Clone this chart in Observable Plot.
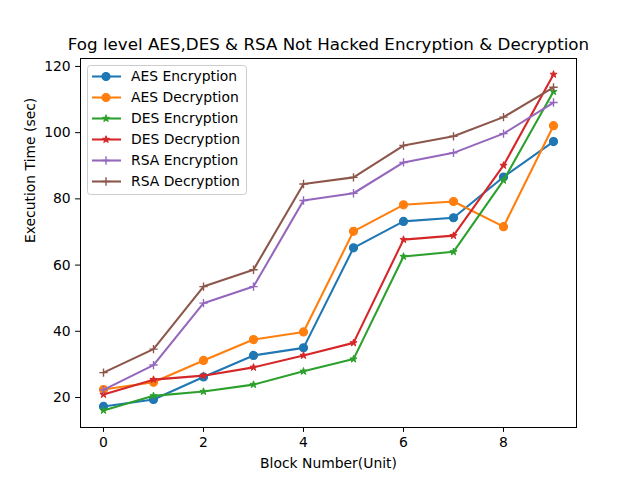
<!DOCTYPE html>
<html><head><meta charset="utf-8">
<script src="https://cdn.jsdelivr.net/npm/d3@7"></script>
<script src="https://cdn.jsdelivr.net/npm/@observablehq/plot@0.6"></script>
<style>
body{margin:0;background:#fff}
#c{position:relative;width:640px;height:480px;font-family:"DejaVu Sans",sans-serif;}
#legend{position:absolute;left:87px;top:65px;}
</style>
</head><body><div id="c"></div>
<script>
const blocks = [0,1,2,3,4,5,6,7,8,9];
const aesEnc = [17.3,19.4,26.2,32.7,35.0,65.2,73.2,74.3,86.6,97.3];
const aesDec = [22.4,24.6,31.2,37.5,39.8,70.2,78.2,79.2,71.6,102.1];
const desEnc = [16.1,20.5,21.8,23.9,27.9,31.6,62.6,64.0,85.6,112.4];
const desDec = [20.9,25.4,26.6,29.1,32.7,36.5,67.7,68.9,90.1,117.6];
const rsaEnc = [22.3,29.8,48.5,53.5,79.5,81.7,91.0,93.9,99.7,109.1];
const rsaDec = [27.5,34.6,53.5,58.6,84.5,86.5,96.1,98.9,104.7,113.7];
const seriesNames = ["AES Encryption","AES Decryption","DES Encryption","DES Decryption","RSA Encryption","RSA Decryption"];
const seriesValues = [aesEnc, aesDec, desEnc, desDec, rsaEnc, rsaDec];
const colors = ["#1f77b4","#ff7f0e","#2ca02c","#d62728","#9467bd","#8c564b"];
const symbols = ["circle","circle","star","star","plus","plus"];
const xTicks = [0,2,4,6,8];
const yTicks = [20,40,60,80,100,120];
const titleText = "Fog level AES,DES & RSA Not Hacked Encryption & Decryption";
const xLabel = "Block Number(Unit)";
const yLabel = "Execution Time (sec)";

const symSpec = {
  circle: {r: 4.0, fill: true, sw: 1.2},
  star: {r: 2.25, fill: true, sw: 1.0},
  plus: {r: 2.8, fill: false, sw: 1.39}
};

const marks = [];
seriesValues.forEach((vals, i) => {
  const data = blocks.map((b, j) => ({x: b, y: vals[j]}));
  marks.push(Plot.line(data, {x: "x", y: "y", stroke: colors[i], strokeWidth: 2.08}));
  const s = symSpec[symbols[i]];
  marks.push(Plot.dot(data, {
    x: "x", y: "y", symbol: symbols[i], r: s.r,
    fill: s.fill ? colors[i] : "none", stroke: colors[i], strokeWidth: s.sw
  }));
});

const plot = Plot.plot({
  width: 640, height: 480,
  marginLeft: 80, marginRight: 64, marginTop: 58, marginBottom: 53,
  style: {fontFamily: "DejaVu Sans", fontSize: "13.9px", color: "#000", background: "#fff"},
  x: {domain: [-0.46, 9.46]},
  y: {domain: [10.94, 122.4]},
  marks: [
    ...marks,
    Plot.frame({stroke: "#000", strokeWidth: 1}),
    Plot.axisX({ticks: xTicks, tickSize: 4.9, tickPadding: 4.9, label: null, fontSize: 13.9}),
    Plot.axisY({ticks: yTicks, tickSize: 4.9, tickPadding: 4.9, label: null, fontSize: 13.9}),
    Plot.text([titleText], {text: d => d, frameAnchor: "top", dy: -14, lineAnchor: "middle", fontSize: 16.7}),
    Plot.text([xLabel], {text: d => d, frameAnchor: "bottom", dy: 36, lineAnchor: "middle", fontSize: 13.9}),
    Plot.text([yLabel], {text: d => d, frameAnchor: "left", dx: -50, rotate: -90, lineAnchor: "middle", fontSize: 13.9})
  ]
});
const c = document.getElementById("c");
c.appendChild(plot);

// legend overlay
const lw = 159, lh = 129;
const leg = d3.select(c).append("svg").attr("id", "legend").attr("width", lw + 2).attr("height", lh + 2);
leg.append("rect").attr("x", 0.5).attr("y", 0.5).attr("width", lw).attr("height", lh).attr("rx", 3)
  .attr("fill", "rgba(255,255,255,0.8)").attr("stroke", "#cccccc");
seriesNames.forEach((name, i) => {
  const y = 11.5 + i * 21;
  const g = leg.append("g");
  g.append("line").attr("x1", 5).attr("x2", 34).attr("y1", y).attr("y2", y)
    .attr("stroke", colors[i]).attr("stroke-width", 2.08);
  const s = symSpec[symbols[i]];
  const symType = {circle: d3.symbolCircle, star: d3.symbolStar, plus: d3.symbolPlus}[symbols[i]];
  g.append("path").attr("transform", `translate(19,${y})`)
    .attr("d", d3.symbol(symType, s.r * s.r * Math.PI)())
    .attr("fill", s.fill ? colors[i] : "none").attr("stroke", colors[i]).attr("stroke-width", s.sw);
  g.append("text").attr("x", 44).attr("y", y).attr("dy", "0.35em")
    .attr("font-family", "DejaVu Sans").attr("font-size", 13.9).attr("fill", "#000").text(name);
});
</script>
</body></html>
